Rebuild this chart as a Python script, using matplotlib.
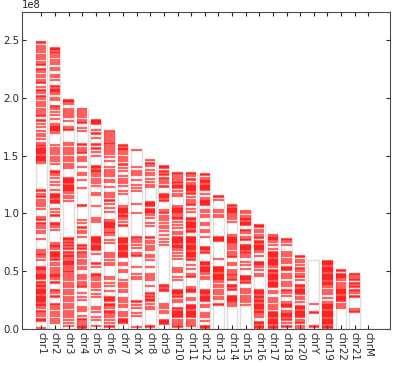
#!/usr/bin/env python3

"""Chromosome bars with feature positions drawn as red ticks."""

import matplotlib
matplotlib.use("Agg")
import matplotlib.pyplot as plt

# chromosome names and lengths (bp), in plotted order
CHROMS = ["chr1", "chr2", "chr3", "chr4", "chr5", "chr6", "chr7", "chrX",
          "chr8", "chr9", "chr10", "chr11", "chr12", "chr13", "chr14", "chr15",
          "chr16", "chr17", "chr18", "chr20", "chrY", "chr19", "chr22", "chr21",
          "chrM"]
LENGTHS = [249250621, 243199373, 198022430, 191154276, 180915260, 171115067,
           159138663, 155270560, 146364022, 141213431, 135534747, 135006516,
           133851895, 115169878, 107349540, 102531392, 90354753, 81195210,
           78077248, 63025520, 59373566, 59128983, 51304566, 48129895, 16571]

# feature positions per chromosome, in Mb
CHR1 = [248, 247, 245, 243, 241, 240, 237, 235, 234, 231, 229, 228, 225, 224,
        222, 220, 218, 215, 214, 213, 209, 207, 206, 204, 202, 201, 199, 196,
        195, 193, 190, 189, 187, 185, 184, 181, 180, 177, 175, 171, 169, 167,
        164, 161, 159, 158, 157, 156, 155, 154, 153, 152, 151, 150, 149, 148,
        147, 146, 145, 144, 120, 119, 117, 115, 114, 112, 110, 108, 106, 104,
        97, 95, 94, 92, 91, 89, 87, 85, 83, 78, 68, 67, 65, 64, 62, 60, 54, 53,
        52, 51, 49, 48, 47, 46, 45, 44, 43, 41, 40, 38, 37, 36, 35, 34, 33, 32,
        31, 30, 29, 28, 27, 26, 25, 24, 23, 22, 21, 20, 18, 16, 15, 13, 11, 9,
        8, 7, 1]
CHR2 = [243, 242, 241, 240, 239, 237, 235, 233, 231, 229, 226, 224, 220, 218,
        215, 210, 209, 208, 207, 206, 205, 203, 200, 198, 193, 192, 190, 188,
        185, 182, 177, 176, 175, 174, 173, 172, 171, 170, 159, 157, 155, 153,
        151, 149, 147, 145, 143, 137, 136, 135, 133, 131, 127, 125, 120, 117,
        116, 115, 114, 113, 112, 111, 110, 109, 104, 101, 99, 98, 92, 91, 90,
        88, 86, 74, 73, 72, 71, 69, 67, 66, 65, 64, 63, 62, 61, 60, 57, 55, 53,
        51, 49, 48, 47, 46, 45, 43, 41, 40, 34, 33, 31, 29, 28, 22, 21, 19, 17,
        15, 13, 11, 9, 7, 5]
CHR3 = [198, 197, 196, 195, 190, 189, 187, 185, 183, 180, 175, 173, 172, 161,
        159, 157, 155, 153, 151, 149, 147, 145, 143, 141, 139, 131, 130, 129,
        128, 127, 126, 125, 124, 123, 122, 121, 120, 119, 118, 115, 113, 111,
        79, 78, 77, 75, 74, 73, 72, 70, 69, 67, 66, 64, 63, 62, 61, 59, 58, 57,
        56, 55, 54, 52, 50, 49, 48, 46, 44, 42, 40, 38, 36, 34, 32, 30, 28, 26,
        24, 22, 20, 18, 16, 14, 12, 10, 8, 5, 3]
CHR4 = [190, 189, 187, 185, 183, 181, 179, 178, 174, 171, 160, 159, 157, 155,
        153, 152, 149, 147, 145, 140, 135, 133, 129, 122, 107, 106, 94, 92, 88,
        87, 85, 83, 80, 73, 72, 70, 69, 67, 66, 64, 62, 60, 58, 56, 54, 52, 47,
        45, 43, 41, 39, 37, 36, 31, 28, 25, 19, 17, 16, 11, 9, 8, 6, 4, 3, 2, 1]
CHR5 = [181, 180, 179, 178, 177, 172, 170, 169, 165, 160, 159, 157, 156, 153,
        150, 141, 140, 139, 138, 137, 136, 134, 132, 130, 128, 126, 124, 118,
        116, 106, 96, 94, 93, 80, 79, 78, 77, 76, 75, 74, 73, 72, 71, 70, 69,
        68, 65, 57, 56, 54, 48, 47, 46, 44, 42, 40, 38, 36, 34, 30, 28, 19, 17,
        15, 10, 8, 3]
CHR6 = [171, 170, 168, 166, 164, 163, 161, 160, 158, 157, 155, 153, 151, 149,
        145, 140, 138, 136, 134, 132, 129, 127, 123, 118, 116, 114, 112, 111,
        108, 105, 101, 94, 93, 92, 91, 90, 89, 88, 87, 86, 84, 83, 81, 77, 74,
        66, 64, 62, 60, 57, 55, 45, 43, 40, 37, 33, 28, 27, 26, 25, 24, 22, 21,
        20, 18, 16, 15, 14, 12, 10, 8, 5, 3, 2]
CHR7 = [159, 158, 157, 156, 155, 153, 151, 149, 147, 145, 143, 142, 139, 137,
        132, 130, 128, 126, 124, 119, 117, 106, 105, 104, 103, 102, 101, 100,
        99, 98, 97, 95, 93, 90, 89, 79, 78, 77, 76, 75, 74, 73, 72, 71, 70, 69,
        68, 67, 66, 65, 64, 63, 62, 57, 55, 51, 49, 42, 40, 38, 36, 34, 32, 27,
        25, 23, 21, 19, 15, 13, 11, 9, 8, 7, 6, 5]
CHRX = [155, 140, 137, 135, 133, 129, 125, 122, 119, 108, 100, 80, 79, 77, 75,
        73, 70, 66, 64, 63, 54, 48, 45, 43, 24, 23, 21, 18, 14, 11, 2]
CHR8 = [146, 144, 143, 141, 138, 135, 133, 130, 127, 125, 123, 110, 109, 108,
        107, 106, 104, 103, 102, 101, 100, 99, 96, 92, 89, 80, 79, 76, 74, 72,
        70, 68, 64, 62, 60, 54, 48, 46, 44, 42, 37, 31, 30, 29, 28, 26, 25, 24,
        22, 19, 17, 3, 2]
CHR9 = [141, 140, 139, 137, 136, 134, 133, 131, 130, 128, 126, 124, 123, 117,
        116, 115, 114, 113, 112, 111, 103, 101, 100, 98, 96, 94, 92, 89, 87,
        85, 81, 78, 75, 73, 38, 37, 36, 35, 34, 33, 22, 20, 18, 16, 14, 8, 7,
        6, 5, 4]
CHR10 = [135, 134, 132, 131, 129, 127, 126, 125, 124, 123, 122, 119, 117, 115,
         106, 105, 104, 103, 102, 101, 100, 99, 97, 96, 95, 93, 90, 87, 84, 82,
         80, 79, 78, 77, 76, 75, 74, 73, 72, 71, 70, 68, 66, 63, 61, 53, 51,
         49, 45, 42, 34, 33, 32, 31, 30, 29, 28, 25, 23, 18, 17, 16, 15, 14,
         13, 12, 11, 10, 8, 6, 4, 3, 2]
CHR11 = [135, 134, 132, 130, 129, 126, 125, 124, 123, 122, 121, 120, 119, 118,
         117, 114, 112, 110, 108, 107, 104, 101, 96, 95, 94, 93, 92, 91, 90,
         89, 88, 87, 86, 85, 84, 80, 79, 78, 77, 76, 75, 74, 73, 72, 71, 70,
         69, 68, 67, 66, 65, 64, 63, 62, 61, 60, 55, 52, 48, 46, 45, 36, 35,
         34, 33, 32, 27, 25, 21, 20, 19, 18, 17, 16, 15, 14, 13, 12, 11, 10, 8,
         6, 4, 3]
CHR12 = [134, 133, 131, 129, 128, 127, 126, 125, 124, 123, 122, 121, 120, 117,
         113, 112, 111, 110, 109, 108, 107, 103, 101, 99, 97, 92, 90, 86, 84,
         80, 71, 70, 69, 68, 67, 66, 58, 57, 56, 55, 54, 53, 52, 51, 50, 49, 48,
         45, 43, 34, 33, 32, 31, 30, 29, 28, 27, 26, 25, 24, 21, 19, 14, 12, 10,
         7, 3, 2, 1]
CHR13 = [115, 114, 112, 103, 101, 99, 97, 80, 79, 78, 77, 76, 61, 54, 53, 52,
         51, 50, 49, 48, 47, 46, 45, 44, 43, 42, 41, 38, 36, 34, 32, 30, 28, 26,
         22, 21]
CHR14 = [107, 106, 105, 104, 103, 102, 101, 100, 99, 97, 95, 93, 81, 80, 79,
         78, 77, 76, 75, 74, 73, 71, 69, 67, 65, 63, 62, 57, 55, 51, 49, 48, 47,
         45, 43, 42, 38, 37, 36, 35, 34, 29, 28, 27, 26, 25, 24, 23, 22, 20]
CHR15 = [102, 100, 98, 96, 95, 94, 93, 92, 91, 90, 86, 85, 83, 80, 78, 77, 73,
         72, 71, 70, 69, 68, 67, 66, 64, 62, 58, 55, 52, 46, 45, 44, 43, 42, 41,
         40, 35, 33, 31, 29, 27, 25, 23, 21]
CHR16 = [90, 89, 88, 86, 84, 81, 80, 79, 76, 75, 74, 73, 72, 71, 70, 69, 68, 67,
         63, 58, 57, 56, 55, 54, 51, 48, 46, 34, 33, 32, 31, 30, 29, 28, 27, 25,
         24, 23, 22, 21, 20, 19, 18, 17, 16, 15, 14, 12, 10, 6, 5, 4, 3, 2, 1]
CHR17 = [81, 80, 79, 78, 77, 75, 73, 69, 67, 66, 65, 64, 63, 62, 61, 60, 59, 58,
         57, 56, 55, 54, 51, 50, 49, 48, 47, 46, 45, 44, 43, 42, 41, 40, 39, 38,
         37, 36, 33, 31, 27, 25, 23, 21, 19, 17, 15, 14, 13, 12, 11, 10, 9, 8,
         7, 6, 5, 4, 3, 2, 1]
CHR18 = [78, 77, 75, 73, 67, 65, 63, 61, 59, 57, 54, 53, 52, 51, 48, 46, 44, 41,
         39, 37, 34, 33, 31, 29, 23, 22, 21, 20, 19, 16, 14, 13, 12, 11, 10, 9,
         8, 5, 3, 2]
CHR20 = [63, 62, 60, 58, 55, 53, 52, 50, 48, 46, 45, 42, 38, 37, 36, 35, 34, 33,
         32, 31, 30, 28, 26, 23, 20, 19, 18, 17, 16, 15, 14, 13, 12, 11, 10, 8,
         6, 5, 3, 1]
CHRY = [22, 15, 14, 3, 2]
CHR19 = [59, 58, 57, 56, 55, 54, 53, 52, 51, 50, 49, 48, 47, 46, 45, 44, 43, 42,
         41, 40, 39, 38, 36, 34, 32, 30, 27, 23, 22, 21, 20, 19, 18, 17, 16, 15,
         14, 13, 12, 11, 10, 9, 8, 7, 6, 5, 4, 3, 2, 1]
CHR22 = [51, 50, 48, 47, 46, 45, 44, 42, 40, 38, 36, 35, 34, 33, 32, 31, 30, 29,
         28, 27, 26, 25, 24, 22, 20, 18]
CHR21 = [48, 47, 45, 43, 42, 40, 39, 37, 36, 34, 33, 31, 29, 28, 17, 16, 15]
CHRM = []

FEATURES = [CHR1, CHR2, CHR3, CHR4, CHR5, CHR6, CHR7, CHRX, CHR8, CHR9, CHR10,
            CHR11, CHR12, CHR13, CHR14, CHR15, CHR16, CHR17, CHR18, CHR20, CHRY,
            CHR19, CHR22, CHR21, CHRM]

WIDTH = 0.8
FS = 7.3


def main() -> None:
    fig = plt.figure(figsize=(3.96, 3.66), dpi=100, facecolor="white")
    ax = fig.add_axes([0.056, 0.101, 0.929, 0.866])

    xs = list(range(len(CHROMS)))
    ax.bar(xs, LENGTHS, width=WIDTH, align="edge", color="white",
           edgecolor="0.87", linewidth=1.0, zorder=1)

    # one thin red stroke per feature; overlapping strokes build up to solid red
    for x, pos in zip(xs, FEATURES):
        if not pos:
            continue
        ys = [p * 1e6 for p in pos]
        ax.hlines(ys, x + 0.02, x + WIDTH - 0.02, colors="red", alpha=0.6,
                  linewidth=1.6, zorder=2)

    ax.set_xlim(-1, 26)
    ax.set_ylim(0, 1.1 * max(LENGTHS))
    ax.set_xticks([x + WIDTH / 2 for x in xs])
    ax.set_xticklabels(CHROMS, rotation=-90, fontsize=FS)
    ax.set_yticks([0, 0.5e8, 1.0e8, 1.5e8, 2.0e8, 2.5e8])
    ax.tick_params(direction="in", top=True, right=True, length=3,
                   labelsize=FS, pad=2, colors="0.15")
    ax.ticklabel_format(axis="y", style="sci", scilimits=(0, 0))
    off = ax.yaxis.get_offset_text()
    off.set_fontsize(FS)
    off.set_horizontalalignment("left")
    for s in ax.spines.values():
        s.set_color("0.3")

    fig.savefig("out.png", dpi=100, facecolor="white")
    plt.close(fig)


if __name__ == "__main__":
    main()
